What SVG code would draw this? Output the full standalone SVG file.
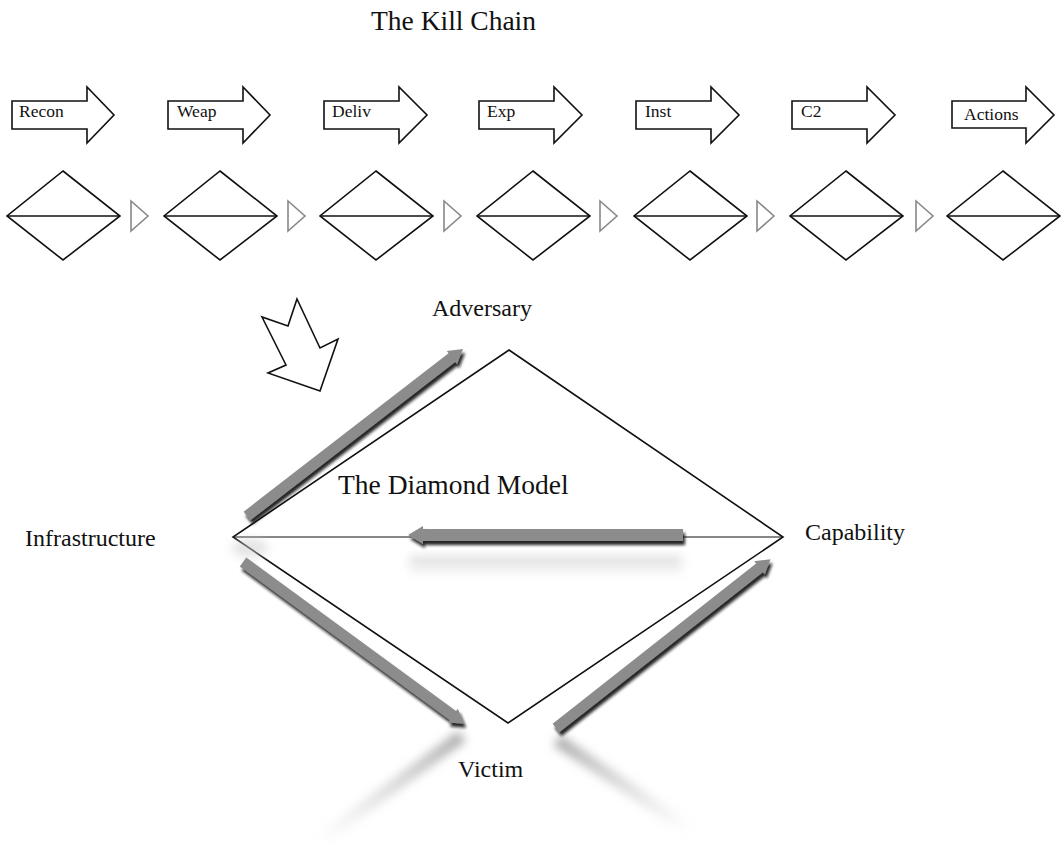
<svg xmlns="http://www.w3.org/2000/svg" width="1063" height="844" viewBox="0 0 1063 844">
<defs>
<style>
text{font-family:"Liberation Serif","Times New Roman",serif;fill:#111}
.lbl{font-size:17.5px}
.big{font-size:27.5px}
.med{font-size:24px}
.kc{fill:#fff;stroke:#111;stroke-width:1.6;stroke-linejoin:miter}
.dm{fill:none;stroke:#111;stroke-width:1.6}
.tri{fill:none;stroke:#888;stroke-width:1.6}
.ga{fill:#8c8c8c}
</style>
<filter id="sh" x="-20%" y="-40%" width="140%" height="180%">
<feGaussianBlur in="SourceAlpha" stdDeviation="1.8" result="b"/>
<feOffset in="b" dx="1.5" dy="4" result="o"/>
<feFlood flood-color="#111" flood-opacity="0.9"/>
<feComposite in2="o" operator="in" result="s"/>
<feMerge><feMergeNode in="s"/><feMergeNode in="SourceGraphic"/></feMerge>
</filter>
<filter id="blur" x="-30%" y="-30%" width="160%" height="160%"><feGaussianBlur stdDeviation="5"/></filter>
<linearGradient id="r3" gradientUnits="userSpaceOnUse" x1="462" y1="736" x2="320" y2="840">
<stop offset="0" stop-color="#9a9a9a" stop-opacity="0.8"/><stop offset="1" stop-color="#bbb" stop-opacity="0"/></linearGradient>
<linearGradient id="r4" gradientUnits="userSpaceOnUse" x1="557" y1="740" x2="690" y2="830">
<stop offset="0" stop-color="#9a9a9a" stop-opacity="0.8"/><stop offset="1" stop-color="#bbb" stop-opacity="0"/></linearGradient>
<linearGradient id="r2" gradientUnits="userSpaceOnUse" x1="0" y1="555" x2="0" y2="580">
<stop offset="0" stop-color="#bbb" stop-opacity="0.6"/><stop offset="1" stop-color="#ddd" stop-opacity="0"/></linearGradient>
</defs>
<rect width="1063" height="844" fill="#fff"/>

<text class="big" x="371" y="30">The Kill Chain</text>

<g id="killchain-arrows">
<g id="kc-recon"><polygon class="kc" points="12,101 87,101 87,87 114,115 87,143 87,129 12,129"/><text class="lbl" x="19" y="117">Recon</text></g>
<g id="kc-weap"><polygon class="kc" points="168,101 243,101 243,87 270,115 243,143 243,129 168,129"/><text class="lbl" x="177" y="117">Weap</text></g>
<g id="kc-deliv"><polygon class="kc" points="324,101 399,101 399,87 427,115 399,143 399,129 324,129"/><text class="lbl" x="332" y="117">Deliv</text></g>
<g id="kc-exp"><polygon class="kc" points="479,101 554,101 554,87 582,115 554,143 554,129 479,129"/><text class="lbl" x="487" y="117">Exp</text></g>
<g id="kc-inst"><polygon class="kc" points="636,101 711,101 711,87 739,115 711,143 711,129 636,129"/><text class="lbl" x="645" y="117">Inst</text></g>
<g id="kc-c2"><polygon class="kc" points="792,101 867,101 867,87 895,115 867,143 867,129 792,129"/><text class="lbl" x="801" y="117">C2</text></g>
<g id="kc-actions"><polygon class="kc" points="952,101 1026,101 1026,87 1054,115 1026,143 1026,128 952,128"/><text class="lbl" x="964" y="120">Actions</text></g>
</g>

<g id="killchain-diamonds">
<g id="d1"><polygon class="dm" points="63,171 120,216 63,260 7,216"/><line class="dm" x1="7" y1="216" x2="120" y2="216" stroke-width="1.2"/></g>
<g id="d2"><polygon class="dm" points="220,171 277,216 220,260 164,216"/><line class="dm" x1="164" y1="216" x2="277" y2="216" stroke-width="1.2"/></g>
<g id="d3"><polygon class="dm" points="376,171 433,216 376,260 320,216"/><line class="dm" x1="320" y1="216" x2="433" y2="216" stroke-width="1.2"/></g>
<g id="d4"><polygon class="dm" points="533,171 590,216 533,260 477,216"/><line class="dm" x1="477" y1="216" x2="590" y2="216" stroke-width="1.2"/></g>
<g id="d5"><polygon class="dm" points="690,171 747,216 690,260 634,216"/><line class="dm" x1="634" y1="216" x2="747" y2="216" stroke-width="1.2"/></g>
<g id="d6"><polygon class="dm" points="846,171 903,216 846,260 790,216"/><line class="dm" x1="790" y1="216" x2="903" y2="216" stroke-width="1.2"/></g>
<g id="d7"><polygon class="dm" points="1003,171 1060,216 1003,260 947,216"/><line class="dm" x1="947" y1="216" x2="1060" y2="216" stroke-width="1.2"/></g>
</g>

<g id="connectors">
<polygon class="tri" points="131,201 148,216 131,231"/>
<polygon class="tri" points="288,201 305,216 288,231"/>
<polygon class="tri" points="444,201 461,216 444,231"/>
<polygon class="tri" points="600,201 617,216 600,231"/>
<polygon class="tri" points="757,201 774,216 757,231"/>
<polygon class="tri" points="916,201 933,216 916,231"/>
</g>

<g id="transition-arrow">
<polygon fill="#fff" stroke="#111" stroke-width="1.6" stroke-linejoin="miter" points="297,299 320,348 338,339 320,391 268,373 286,365 262,317 288,326"/>
</g>

<g id="diamond-model">
<polygon class="dm" points="509,350 783,537 508,723 233,537"/>
<line x1="233" y1="537" x2="783" y2="537" stroke="#111" stroke-width="1.1"/>
<text class="big" x="338" y="494">The Diamond Model</text>
</g>

<g id="reflections">
<line x1="462" y1="736" x2="320" y2="840" stroke="url(#r3)" stroke-width="13" filter="url(#blur)"/>
<line x1="557" y1="740" x2="690" y2="830" stroke="url(#r4)" stroke-width="13" filter="url(#blur)"/>
<rect x="410" y="556" width="272" height="20" fill="url(#r2)" filter="url(#blur)"/>
<ellipse cx="250" cy="548" rx="18" ry="10" fill="#ccc" opacity="0.5" filter="url(#blur)"/>
</g>

<g id="dm-connectors">
<g filter="url(#sh)"><polygon class="ga" transform="translate(247,516) rotate(-37.7)" points="0,-5.5 259,-5.5 259,-8.5 273,0 259,8.5 259,5.5 0,5.5"/></g>
<g filter="url(#sh)"><polygon class="ga" transform="translate(683,535) rotate(180)" points="0,-6 260,-6 260,-9 275,0 260,9 260,6 0,6"/></g>
<g filter="url(#sh)"><polygon class="ga" transform="translate(243,562) rotate(36.2)" points="0,-5.5 260,-5.5 260,-8.5 274,0 260,8.5 260,5.5 0,5.5"/></g>
<g filter="url(#sh)"><polygon class="ga" transform="translate(556,728) rotate(-38.2)" points="0,-5.5 259,-5.5 259,-8.5 273,0 259,8.5 259,5.5 0,5.5"/></g>
</g>

<g id="vertex-labels">
<g id="adversary"><text class="med" x="432" y="316">Adversary</text></g>
<g id="infrastructure"><text class="med" x="25" y="546">Infrastructure</text></g>
<g id="capability"><text class="med" x="805" y="540">Capability</text></g>
<g id="victim"><text class="med" x="458" y="777">Victim</text></g>
</g>
</svg>
